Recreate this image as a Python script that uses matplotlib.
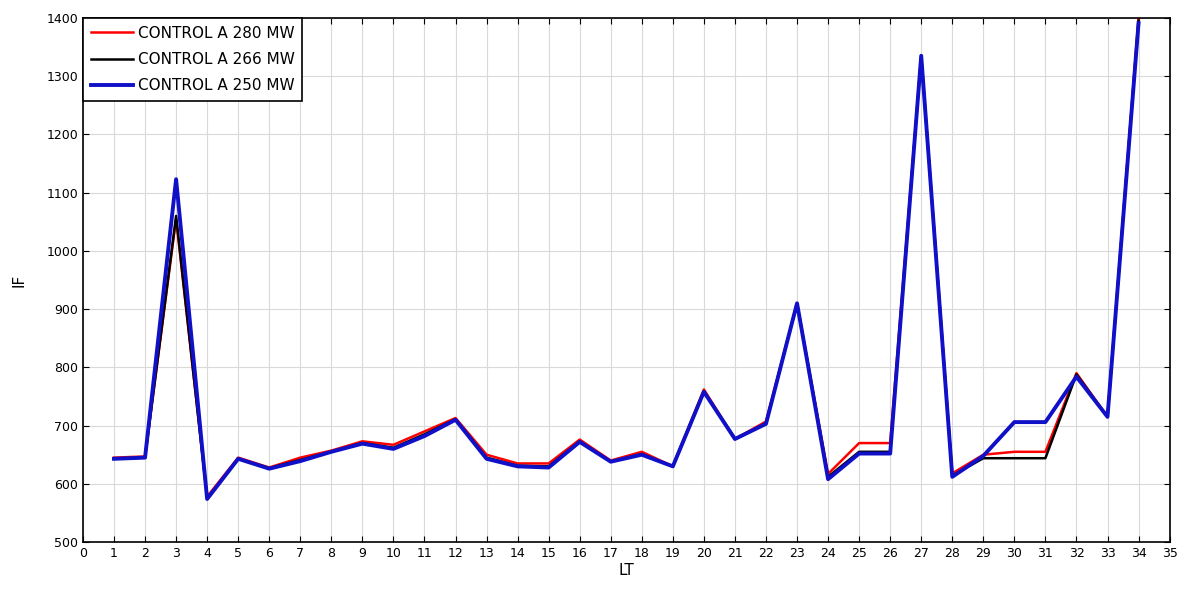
import matplotlib
matplotlib.use('Agg')
import matplotlib.pyplot as plt

# LT stations
lt = list(range(1, 35))

# IF values per case
if_280 = [645, 647, 1055, 578, 645, 628, 645, 657, 673, 667, 690, 713, 650, 635, 635, 676, 640,
          655, 630, 762, 677, 707, 910, 617, 670, 670, 1335, 618, 650, 655, 655, 790, 715, 1400]
if_266 = [643, 645, 1060, 575, 643, 627, 641, 655, 670, 662, 685, 711, 645, 631, 630, 673, 638,
          651, 630, 759, 677, 704, 910, 612, 655, 655, 1335, 614, 644, 644, 644, 788, 715, 1395]
if_250 = [643, 645, 1123, 574, 643, 626, 639, 655, 669, 660, 682, 710, 643, 630, 628, 672, 638,
          650, 630, 758, 677, 703, 910, 608, 652, 652, 1335, 612, 648, 706, 706, 784, 715, 1391]

labels = ['CONTROL A 280 MW', 'CONTROL A 266 MW', 'CONTROL A 250 MW']
x_ticks = list(range(0, 36))
y_ticks = list(range(500, 1401, 100))

fig = plt.figure(figsize=(11.85, 5.97), dpi=100)
ax = fig.add_axes([0.070, 0.092, 0.917, 0.878])

ax.plot(lt, if_280, color='red', lw=1.8, label=labels[0])
ax.plot(lt, if_266, color='black', lw=1.8, label=labels[1])
ax.plot(lt, if_250, color='#1010c8', lw=2.8, label=labels[2])

ax.set_xlim(0, 35)
ax.set_ylim(500, 1400)
ax.set_xticks(x_ticks)
ax.set_yticks(y_ticks)
ax.tick_params(direction='in', top=True, right=True, labelsize=9, length=4)
ax.grid(True, color='#d9d9d9', lw=0.8)
for s in ax.spines.values():
    s.set_linewidth(1.2)

ax.set_xlabel('LT', fontsize=11, labelpad=2)
ax.set_ylabel('IF', fontsize=11, labelpad=14)

leg = ax.legend(loc='upper left', fontsize=11, fancybox=False, edgecolor='black',
                framealpha=1, borderaxespad=0, handlelength=2.8, handletextpad=0.3,
                labelspacing=0.75, borderpad=0.5)
leg.get_frame().set_linewidth(1.2)

fig.savefig('out.png', dpi=100)
